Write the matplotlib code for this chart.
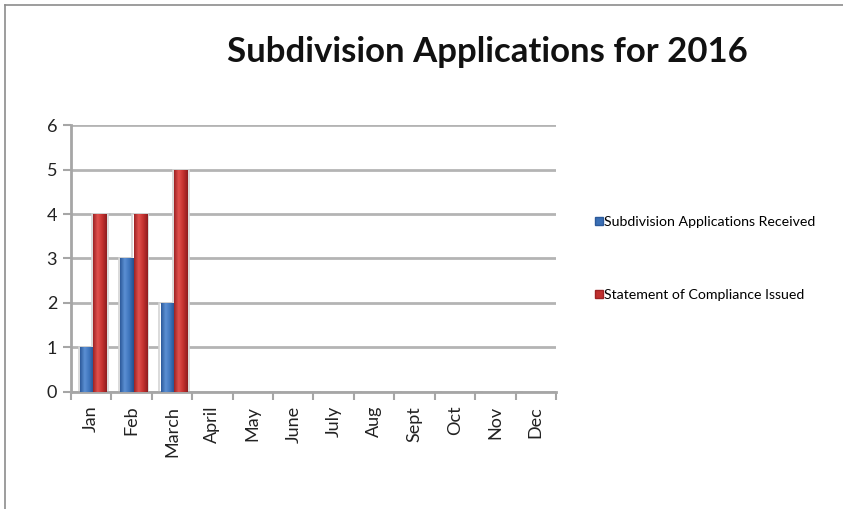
import matplotlib
matplotlib.use("Agg")
import matplotlib.pyplot as plt
import numpy as np
from matplotlib.lines import Line2D
from matplotlib.colors import LinearSegmentedColormap

months = ["Jan", "Feb", "March", "April", "May", "June", "July", "Aug",
          "Sept", "Oct", "Nov", "Dec"]
received = [1, 3, 2, 0, 0, 0, 0, 0, 0, 0, 0, 0]
issued = [4, 4, 5, 0, 0, 0, 0, 0, 0, 0, 0, 0]
series_names = ["Subdivision Applications Received", "Statement of Compliance Issued"]

plt.rcParams["font.family"] = ["Lato", "DejaVu Sans"]

fig = plt.figure(figsize=(8.43, 5.09), dpi=100)
ax = fig.add_axes([0.0842, 0.2299, 0.5753, 0.5245])

x = np.arange(len(months))
bw = 0.33
off = 0.05

blue_cmap = LinearSegmentedColormap.from_list("b", ["#2c5a9a", "#5b8fd3", "#3f75bd", "#244f8c"])
red_cmap = LinearSegmentedColormap.from_list("r", ["#9e2224", "#e0514d", "#c4312f", "#8e1d1f"])

def draw_series(xpos, vals, cmap, base):
    # faint halo behind each bar
    ax.bar(xpos, vals, width=bw + 0.06, color="white", edgecolor="#d4d4d4",
           linewidth=1.2, zorder=2)
    bars = ax.bar(xpos, vals, width=bw, color=base, zorder=3)
    grad = np.linspace(0, 1, 64).reshape(1, -1)
    for p in bars:
        h = p.get_height()
        if h <= 0:
            continue
        x0 = p.get_x()
        im = ax.imshow(grad, cmap=cmap, aspect="auto", zorder=4,
                       extent=(x0, x0 + p.get_width(), 0, h))
        im.set_clip_path(p)
    return bars

draw_series(x - bw / 2 + off, received, blue_cmap, "#3a6fb5")
draw_series(x + bw / 2 + off, issued, red_cmap, "#c0302f")

ax.set_xlim(-0.5, len(months) - 0.5)
ax.set_ylim(0, 6)
ax.set_yticks(range(0, 7))
ax.set_xticks(x)
ax.set_xticklabels(months, rotation=90, fontsize=13, color="#222222")
ax.tick_params(axis="y", labelsize=13, colors="#222222", length=6, width=1.5,
               color="#a6a6a6", pad=4)
ax.tick_params(axis="x", length=0, pad=10)
ax.set_xticks(np.arange(-0.5, len(months)), minor=True)
ax.tick_params(axis="x", which="minor", length=6, width=1.5, color="#a6a6a6")

ax.yaxis.grid(True, color="#b4b4b4", linewidth=2, zorder=0)
ax.set_axisbelow(True)
for s in ["top", "right"]:
    ax.spines[s].set_visible(False)
for s in ["left", "bottom"]:
    ax.spines[s].set_color("#a6a6a6")
    ax.spines[s].set_linewidth(2)

fig.text(0.578, 0.898, "Subdivision Applications for 2016", ha="center", va="center",
         fontsize=25, fontweight="bold", color="#111111")

handles = [Line2D([], [], linestyle="none", marker="s", markersize=6,
                  markerfacecolor="#3a6fb5", markeredgecolor="#2c5a9a"),
           Line2D([], [], linestyle="none", marker="s", markersize=6,
                  markerfacecolor="#c0302f", markeredgecolor="#9e2224")]
fig.legend(handles, series_names, loc="upper left", bbox_to_anchor=(0.697, 0.589),
           frameon=False, fontsize=10.2, labelspacing=4.3, handlelength=0.6,
           handletextpad=0.05, borderpad=0)

# outer frame edges
fig.add_artist(Line2D([0.006, 1.0], [0.99, 0.99], transform=fig.transFigure,
                      color="#8c8c8c", linewidth=1.2))
fig.add_artist(Line2D([0.006, 0.006], [0.0, 0.99], transform=fig.transFigure,
                      color="#8c8c8c", linewidth=1.2))

fig.savefig("out.png", dpi=100)
